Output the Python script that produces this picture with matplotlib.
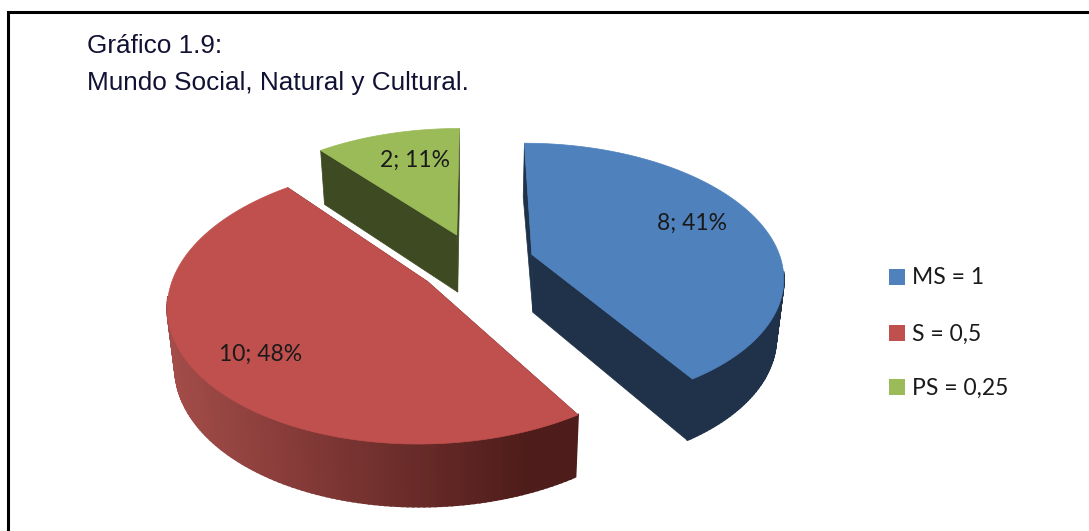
#!/usr/bin/env python3
# Grafico 1.9 - exploded 3D style pie, drawn by hand since matplotlib has no 3D pie
import numpy as np
import matplotlib
matplotlib.use('Agg')
import matplotlib.pyplot as plt
from matplotlib.colors import to_rgb
from matplotlib.patches import Polygon, Rectangle

# Data
names   = ['MS = 1', 'S = 0,5', 'PS = 0,25']
counts  = [8, 10, 2]
percent = [41, 48, 11]

# Colours
tops  = ['#4f81bd', '#c0504d', '#9bbb59']
sides = ['#1f3249', '#4e1c1a', '#3e4a22']

# Projection parameters, in pixels
cx, cy  = 476, 263
a, b    = 250, 131
persp   = 0.155
explode = 0.235
shrink  = 0.975   # the lower rim is a bit narrower than the upper one


def project(u, v):
    w = 1 + persp*v
    return cx + a*u/w, cy - b*v/w


def depth(v):
    return 58 - 4*v


def gradient(x):
    # side of the red slice goes darker from left to right
    t = np.clip((x - 170)/(530 - 170), 0, 1)
    return np.array(to_rgb('#a34c49'))*(1 - t) + np.array(to_rgb(sides[1]))*t


fig = plt.figure(figsize=(10.89, 5.31), dpi=100)
ax  = fig.add_axes([0, 0, 1, 1])
ax.set_xlim(0, 1089)
ax.set_ylim(531, 0)
ax.axis('off')

# Frame, only left and top are visible
ax.plot([8, 8, 1089], [531, 12, 12], color='black', lw=2.2, solid_joinstyle='miter')

# Slice angles, clockwise from the top
ends   = 90 - 360*np.cumsum(percent)/np.sum(percent)
starts = np.r_[90, ends[:-1]]

for i in [2, 0, 1]:
    th  = np.radians(np.linspace(starts[i], ends[i], 160))
    mid = np.radians((starts[i] + ends[i])/2)
    u0, v0 = explode*np.cos(mid), explode*np.sin(mid)
    u, v   = u0 + np.cos(th), v0 + np.sin(th)
    rx, ry = project(u, v)
    ax0, ay0 = project(u0, v0)
    bx = cx + (rx - cx)*shrink
    by = ry + depth(v)
    d0 = depth(v0)

    # Flat cut faces
    for j in [0, -1]:
        face = [(ax0, ay0), (rx[j], ry[j]), (bx[j], by[j]), (ax0 + 1, ay0 + d0)]
        ax.add_patch(Polygon(face, closed=True, fc=sides[i], ec=sides[i], lw=0.5))

    # Outer rim
    for j in range(len(th) - 1):
        if np.sin(th[j]) > -0.12:
            continue
        col  = gradient(rx[j]) if i == 1 else sides[i]
        quad = [(rx[j], ry[j]), (rx[j+1], ry[j+1]), (bx[j+1], by[j+1]), (bx[j], by[j])]
        ax.add_patch(Polygon(quad, closed=True, fc=col, ec=col, lw=1.4))

    # Top surface
    top = np.vstack([[ax0, ay0], np.c_[rx, ry]])
    ax.add_patch(Polygon(top, closed=True, fc=tops[i], ec=tops[i], lw=0.5))

# Data labels
label_pos = [(692, 223), (261, 354), (415, 160)]
for n, p, pos in zip(counts, percent, label_pos):
    ax.text(pos[0], pos[1], f'{n}; {p}%', family='Lato', fontsize=16.5, color='#1a1a1a',
            ha='center', va='center')

# Title
ax.text(87, 46, 'Gráfico 1.9:', family='Liberation Sans', fontsize=18.8, color='#111133', va='center')
ax.text(87, 83, 'Mundo Social, Natural y Cultural.', family='Liberation Sans', fontsize=18.8,
        color='#111133', va='center')

# Legend
legend_y = [278, 334, 388]
for name, col, y in zip(names, tops, legend_y):
    ax.add_patch(Rectangle((889, y - 9), 16, 16, fc=col, ec='none'))
    ax.text(912, y, name, family='Lato', fontsize=16.5, color='#1a1a1a', va='center')

fig.savefig('out.png', dpi=100)
